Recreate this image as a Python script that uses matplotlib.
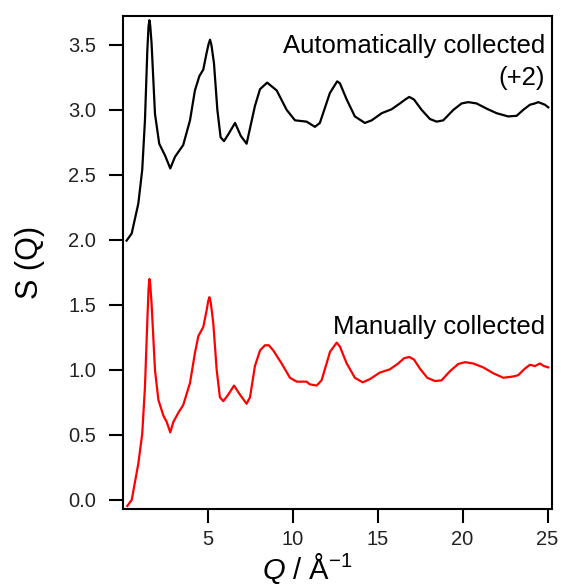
import matplotlib
matplotlib.use("Agg")
import matplotlib.pyplot as plt

plt.rcParams['font.family'] = ['Liberation Sans', 'DejaVu Sans']
plt.rcParams['mathtext.fontset'] = 'custom'
plt.rcParams['mathtext.rm'] = 'Liberation Sans'
plt.rcParams['mathtext.it'] = 'Liberation Sans:italic'

# manually collected S(Q)
q_manual = [0.27, 0.53, 0.92, 1.15, 1.31, 1.45, 1.52, 1.57, 1.62, 1.70, 1.90, 2.10, 2.39,
            2.59, 2.80, 2.98, 3.27, 3.56, 3.96, 4.25, 4.45, 4.74, 4.94, 5.03, 5.10, 5.18,
            5.33, 5.53, 5.72, 5.92, 6.21, 6.55, 6.90, 7.29, 7.49, 7.78, 8.08, 8.37, 8.60,
            8.86, 9.35, 9.84, 10.24, 10.82, 11.0, 11.41, 11.7, 12.2, 12.59, 12.78, 13.18,
            13.66, 14.12, 14.55, 15.13, 15.72, 16.21, 16.55, 16.86, 17.14, 17.49, 17.92,
            18.37, 18.76, 19.25, 19.74, 20.14, 20.62, 21.21, 21.8, 22.39, 22.98, 23.27,
            23.66, 23.96, 24.25, 24.55, 24.78, 25.04]
s_manual = [-0.046, 0.0, 0.28, 0.51, 0.87, 1.38, 1.62, 1.70, 1.66, 1.51, 1.0, 0.77, 0.65,
            0.60, 0.52, 0.60, 0.67, 0.73, 0.90, 1.13, 1.26, 1.33, 1.46, 1.53, 1.56, 1.52,
            1.36, 1.0, 0.79, 0.76, 0.81, 0.88, 0.81, 0.74, 0.79, 1.03, 1.15, 1.19, 1.19,
            1.15, 1.05, 0.94, 0.91, 0.91, 0.89, 0.88, 0.92, 1.14, 1.21, 1.18, 1.05,
            0.94, 0.905, 0.93, 0.98, 1.005, 1.05, 1.09, 1.10, 1.08, 1.01, 0.94,
            0.915, 0.92, 0.99, 1.046, 1.06, 1.05, 1.02, 0.975, 0.94, 0.95, 0.96,
            1.01, 1.04, 1.03, 1.05, 1.03, 1.02]

# automatically collected S(Q), already shifted by +2
q_auto = [0.23, 0.53, 0.92, 1.15, 1.31, 1.45, 1.52, 1.57, 1.62, 1.70, 1.90, 2.15, 2.49,
          2.80, 3.08, 3.56, 3.96, 4.25, 4.51, 4.74, 4.94, 5.06, 5.14, 5.22, 5.37, 5.57,
          5.76, 5.96, 6.25, 6.61, 6.95, 7.29, 7.78, 8.08, 8.50, 9.06, 9.65, 10.14, 10.82,
          11.31, 11.6, 12.19, 12.62, 12.78, 13.18, 13.66, 14.25, 14.65, 15.24, 15.82,
          16.31, 16.62, 16.86, 17.14, 17.59, 18.08, 18.47, 18.86, 19.45, 19.94, 20.33,
          20.82, 21.41, 22.0, 22.68, 23.18, 23.56, 23.96, 24.25, 24.45, 24.65, 24.84, 25.04]
s_auto = [1.995, 2.05, 2.28, 2.54, 2.92, 3.46, 3.64, 3.69, 3.65, 3.51, 2.97, 2.74, 2.65,
          2.55, 2.64, 2.73, 2.92, 3.15, 3.26, 3.31, 3.44, 3.51, 3.54, 3.50, 3.36, 3.0,
          2.79, 2.76, 2.82, 2.90, 2.80, 2.74, 3.03, 3.16, 3.21, 3.15, 3.0, 2.92, 2.91,
          2.87, 2.90, 3.13, 3.22, 3.205, 3.08, 2.95, 2.90, 2.92, 2.975, 3.005,
          3.05, 3.08, 3.10, 3.08, 3.0, 2.93, 2.91, 2.92, 3.0, 3.05, 3.06,
          3.05, 3.01, 2.975, 2.95, 2.955, 3.0, 3.04, 3.05, 3.06, 3.05, 3.04, 3.02]

yticks = [0.0, 0.5, 1.0, 1.5, 2.0, 2.5, 3.0, 3.5]
xticks = [5, 10, 15, 20, 25]

fig = plt.figure(figsize=(5.61, 5.85), dpi=100)
ax = fig.add_axes([0.2187, 0.130, 0.7647, 0.8432])

ax.plot(q_auto, s_auto, color='black', lw=1.6)
ax.plot(q_manual, s_manual, color='red', lw=1.6)

ax.set_xlim(0, 25.24)
ax.set_ylim(-0.069, 3.725)
ax.set_xticks(xticks)
ax.set_yticks(yticks)
ax.set_yticklabels(['%.1f' % v for v in yticks])

for sp in ax.spines.values():
    sp.set_linewidth(1.5)
ax.tick_params(direction='out', length=10, width=1.5, labelsize=14.5,
               labelcolor='#222222')
ax.tick_params(axis='y', pad=9)
ax.tick_params(axis='x', pad=5)

ax.text(24.84, 3.44, 'Automatically collected', ha='right', va='baseline', fontsize=18.5)
ax.text(24.84, 3.19, '(+2)', ha='right', va='baseline', fontsize=18.5)
ax.text(24.84, 1.28, 'Manually collected', ha='right', va='baseline', fontsize=18.5)

ax.set_xlabel(r'$Q$ / Å$^{-1}$', fontsize=21)
ax.xaxis.set_label_coords(0.43, -0.085)
ax.set_ylabel('S (Q)', fontsize=22)
ax.yaxis.set_label_coords(-0.18, 0.5)

fig.savefig('out.png', dpi=100)
